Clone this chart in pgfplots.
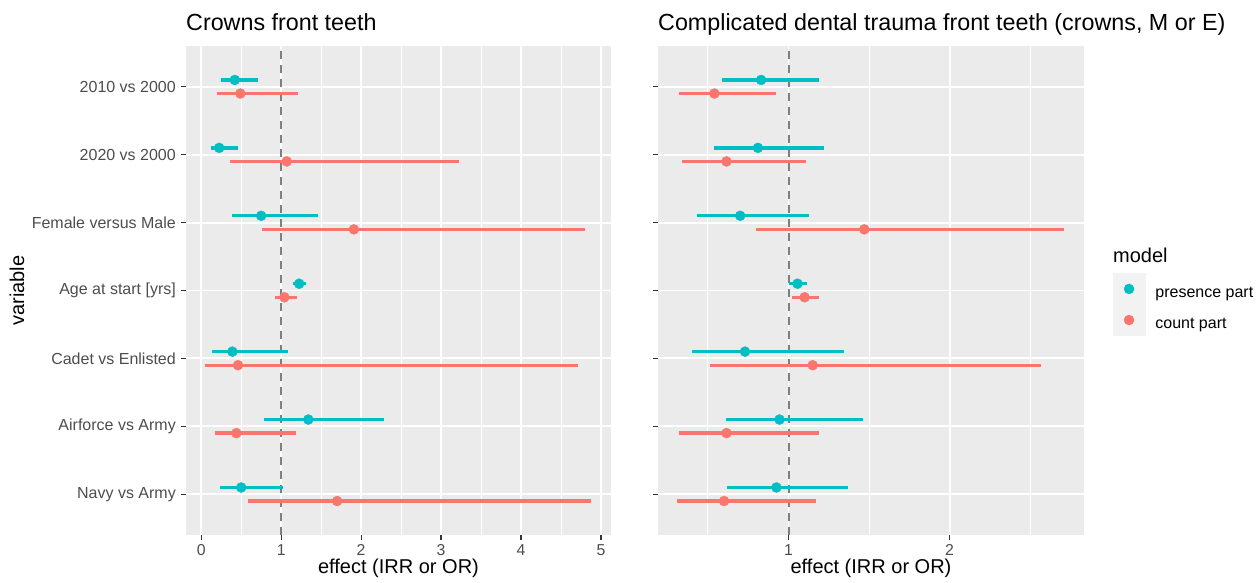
\documentclass[border=0pt]{standalone}
\usepackage{pgfplots}
\usepackage{pgfplotstable}
\pgfplotsset{compat=1.18}
\usepackage{fontspec}
\setmainfont{Liberation Sans}
\definecolor{panelbg}{HTML}{EBEBEB}
\definecolor{legbg}{HTML}{F2F2F2}
\definecolor{tealc}{HTML}{00BFC4}
\definecolor{salmonc}{HTML}{F8766D}
\definecolor{grayt}{HTML}{4D4D4D}
\definecolor{grayk}{HTML}{333333}
\definecolor{vline}{HTML}{7F7F7F}

% y = category position (+0.1 presence, -0.1 count); m = estimate; lo/hi = interval
\pgfplotstableread{
y m lo hi
7.1 0.42 0.25 0.71
6.1 0.225 0.12 0.46
5.1 0.75 0.38 1.46
4.1 1.225 1.15 1.31
3.1 0.39 0.14 1.09
2.1 1.34 0.78 2.29
1.1 0.50 0.24 1.02
}\leftpres
\pgfplotstableread{
y m lo hi
6.9 0.49 0.20 1.21
5.9 1.07 0.36 3.22
4.9 1.91 0.76 4.80
3.9 1.04 0.92 1.20
2.9 0.46 0.05 4.71
1.9 0.44 0.17 1.18
0.9 1.70 0.59 4.88
}\leftcount
\pgfplotstableread{
y m lo hi
7.1 0.83 0.59 1.19
6.1 0.81 0.54 1.22
5.1 0.70 0.43 1.13
4.1 1.056 1.00 1.114
3.1 0.73 0.40 1.345
2.1 0.944 0.61 1.46
1.1 0.925 0.62 1.37
}\rightpres
\pgfplotstableread{
y m lo hi
6.9 0.54 0.32 0.92
5.9 0.615 0.34 1.11
4.9 1.47 0.80 2.71
3.9 1.10 1.02 1.19
2.9 1.15 0.513 2.565
1.9 0.615 0.32 1.19
0.9 0.60 0.31 1.17
}\rightcount

\pgfplotsset{
  panel/.style={
    scale only axis, height=489pt, anchor=south west,
    axis background/.style={fill=panelbg},
    axis line style={draw=none},
    ymin=0.4, ymax=7.6, ytick={1,...,7},
    grid=both,
    major grid style={white, line width=1.9pt},
    minor grid style={white, line width=0.95pt},
    tick align=outside, major tick length=5pt, minor tick length=0pt,
    every tick/.style={grayk, line width=1.2pt},
    xtick pos=bottom, ytick pos=left,
    /pgf/number format/assume math mode=true,
    ticklabel style={text=grayt},
    yticklabel style={font=\fontsize{16}{18}\selectfont, inner sep=5pt},
    xticklabel style={font=\fontsize{15.8}{18}\selectfont, inner sep=0pt, yshift=-4.5pt},
    label style={font=\fontsize{20}{24}\selectfont},
    clip=false,
  },
  ebar/.style={only marks, mark=*, mark size=5pt, color=#1,
    mark options={draw=#1, fill=#1},
    error bars/.cd, x dir=both, x explicit, error mark=none,
    error bar style={line width=3.3pt, color=#1}, /pgfplots/.cd},
  vdash/.style={forget plot, vline, line width=2pt, dash pattern=on 7.5pt off 6.5pt},
}

\begin{document}
\begin{tikzpicture}[x=1pt,y=1pt]
\path[use as bounding box] (0,0) rectangle (1256,583);

\begin{axis}[panel, at={(186pt,48pt)}, width=425pt,
  xmin=-0.19, xmax=5.125, xtick={0,1,2,3,4,5},
  minor xtick={0.5,1.5,2.5,3.5,4.5},
  yticklabels={Navy vs Army, Airforce vs Army, Cadet vs Enlisted, Age at start [yrs], Female versus Male, 2020 vs 2000, 2010 vs 2000},
  ylabel={variable},
  ylabel style={at={(axis description cs:-0.381,0.5)}, anchor=base},
]
\addplot[vdash] coordinates {(1,0.4) (1,7.6)};
\addplot[ebar=tealc] table[x=m, y=y, x error plus expr=\thisrow{hi}-\thisrow{m}, x error minus expr=\thisrow{m}-\thisrow{lo}] {\leftpres};
\addplot[ebar=salmonc] table[x=m, y=y, x error plus expr=\thisrow{hi}-\thisrow{m}, x error minus expr=\thisrow{m}-\thisrow{lo}] {\leftcount};
\end{axis}

\begin{axis}[panel, at={(658pt,48pt)}, width=426pt,
  xmin=0.19, xmax=2.834, xtick={1,2},
  minor xtick={0.5,1.5,2.5},
  yticklabels={},
  legend style={draw=none, fill=none, inner sep=0pt, outer sep=0pt,
    row sep=0pt, column sep=10pt, nodes={inner sep=0pt},
    font=\fontsize{16}{18}\selectfont,
    at={(1.0674,0.535)}, anchor=north west},
  legend cell align=left,
]
\addplot[vdash] coordinates {(1,0.4) (1,7.6)};
\addplot[legend image code/.code={\fill[legbg] (0pt,-11.15pt) rectangle (32.3pt,19.55pt); \fill[tealc] (16.15pt,4.2pt) circle (5pt);}, ebar=tealc] table[x=m, y=y, x error plus expr=\thisrow{hi}-\thisrow{m}, x error minus expr=\thisrow{m}-\thisrow{lo}] {\rightpres};
\addlegendentry{presence part}
\addplot[legend image code/.code={\fill[legbg] (0pt,-11.15pt) rectangle (32.3pt,19.55pt); \fill[salmonc] (16.15pt,4.2pt) circle (5pt);}, ebar=salmonc] table[x=m, y=y, x error plus expr=\thisrow{hi}-\thisrow{m}, x error minus expr=\thisrow{m}-\thisrow{lo}] {\rightcount};
\addlegendentry{count part}
\end{axis}

\node[anchor=base, inner sep=0pt, font=\fontsize{20}{24}\selectfont] at (398.5,9.6) {effect (IRR or OR)};
\node[anchor=base, inner sep=0pt, font=\fontsize{20}{24}\selectfont] at (871,9.6) {effect (IRR or OR)};
\node[anchor=base west, inner sep=0pt, font=\fontsize{23.3}{26}\selectfont] at (186,552) {Crowns front teeth};
\node[anchor=base west, inner sep=0pt, font=\fontsize{23.3}{26}\selectfont] at (658,552) {Complicated dental trauma front teeth (crowns, M or E)};
\node[anchor=base west, inner sep=0pt, font=\fontsize{20}{24}\selectfont] at (1113,320.3) {model};
\end{tikzpicture}
\end{document}
